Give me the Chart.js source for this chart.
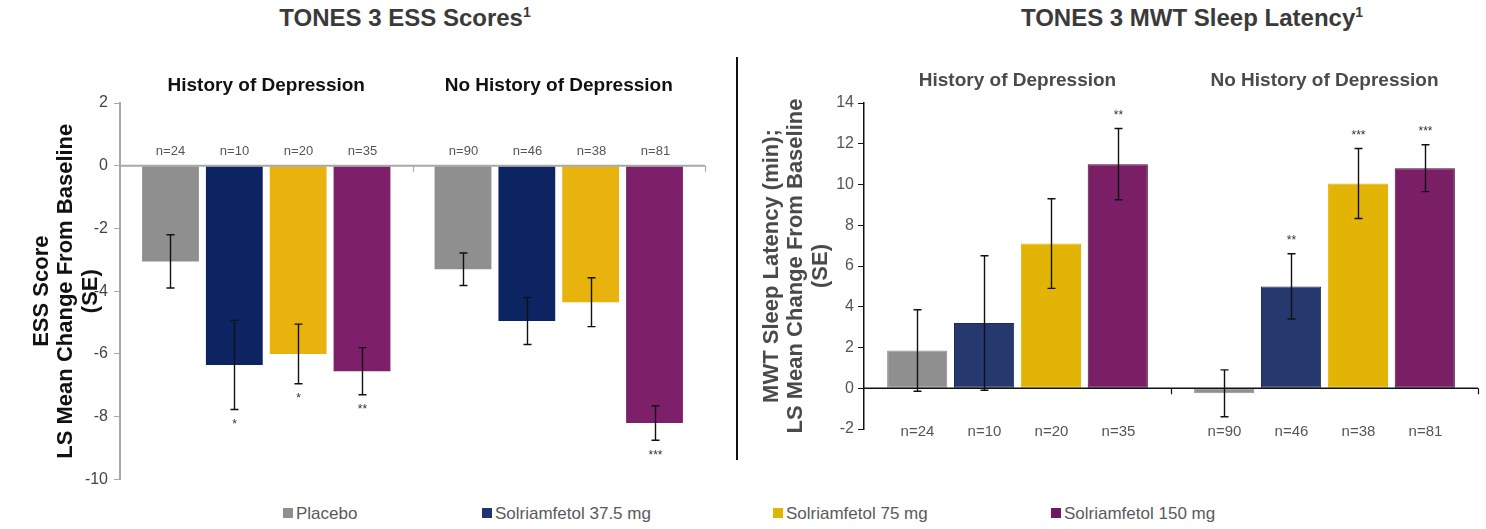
<!DOCTYPE html>
<html>
<head>
<meta charset="utf-8">
<script src="https://cdn.jsdelivr.net/npm/chart.js@4.4.1/dist/chart.umd.min.js"></script>
<style>
  html, body { margin: 0; padding: 0; background: #ffffff; }
  body { width: 1486px; height: 529px; position: relative; overflow: hidden; font-family: "Liberation Sans", Arial, sans-serif; }
  .title { position: absolute; top: 4px; width: 600px; text-align: center; font-weight: bold; font-size: 24px; line-height: 28px; color: #3a3a3a; }
  .title sup { font-size: 14px; vertical-align: 9px; line-height: 0; }
  #sep { position: absolute; left: 736px; top: 57px; width: 2px; height: 403px; background: #111; }
  canvas { position: absolute; top: 0; }
  .leg { position: absolute; top: 504px; font-size: 17px; line-height: 20px; color: #5a5a5a; white-space: nowrap; }
  .leg i { display: inline-block; width: 10px; height: 10px; margin-right: 3px; vertical-align: 1px; }
</style>
</head>
<body>
<div class="title" style="left:105px">TONES 3 ESS Scores<sup>1</sup></div>
<div class="title" style="left:892px">TONES 3 MWT Sleep Latency<sup>1</sup></div>
<div id="sep"></div>
<canvas id="ess" width="730" height="495" style="left:0"></canvas>
<canvas id="mwt" width="746" height="495" style="left:740px"></canvas>
<div id="legend"></div>
<script>
// ---------- data ----------
const groups = ["History of Depression", "No History of Depression"];
const treatments = ["Placebo", "Solriamfetol 37.5 mg", "Solriamfetol 75 mg", "Solriamfetol 150 mg"];

// sample sizes per treatment [history, no history]
const nPlacebo = [24, 90];
const n375 = [10, 46];
const n75 = [20, 38];
const n150 = [35, 81];

// ESS LS mean change (SE)
const essPlacebo = [-3.05, -3.3];
const ess375 = [-6.35, -4.95];
const ess75 = [-6.0, -4.35];
const ess150 = [-6.55, -8.2];
const essSePlacebo = [0.85, 0.52];
const essSe375 = [1.42, 0.75];
const essSe75 = [0.95, 0.78];
const essSe150 = [0.75, 0.55];
const essSigPlacebo = ["", ""];
const essSig375 = ["*", ""];
const essSig75 = ["*", ""];
const essSig150 = ["**", "***"];
const essTicks = [2, 0, -2, -4, -6, -8, -10];

// MWT sleep latency LS mean change (SE)
const mwtPlacebo = [1.85, -0.25];
const mwt375 = [3.2, 5.0];
const mwt75 = [7.1, 10.05];
const mwt150 = [11.0, 10.8];
const mwtSePlacebo = [2.0, 1.15];
const mwtSe375 = [3.3, 1.6];
const mwtSe75 = [2.2, 1.72];
const mwtSe150 = [1.75, 1.15];
const mwtSigPlacebo = ["", ""];
const mwtSig375 = ["", "**"];
const mwtSig75 = ["", "***"];
const mwtSig150 = ["**", "***"];
const mwtTicks = [14, 12, 10, 8, 6, 4, 2, 0, -2];

// ---------- styles ----------
const FONT = '"Liberation Sans", Arial, sans-serif';
const essColors = ["#8f8f8f", "#0c2562", "#e8b30c", "#7d1f69"];
const mwtColors = ["#8f8f8f", "#25396e", "#e2b406", "#7a1e66"];
const mwtBorders = ["#8f8f8f", "#1c2c58", "#e2b406", "#3e0d34"];

// legend
const legendX = [283, 482, 773, 1051];
const legendEl = document.getElementById('legend');
treatments.forEach((t, i) => {
  const d = document.createElement('div');
  d.className = 'leg';
  d.style.left = legendX[i] + 'px';
  d.innerHTML = '<i style="background:' + [ "#8f8f8f", "#1f3570", "#e2b406", "#6e1a5c"][i] + '"></i>' + t;
  legendEl.appendChild(d);
});

// ---------- plugin: zero line, error bars, n labels, significance ----------
const extras = {
  id: 'extras',
  afterDatasetsDraw(chart, args, o) {
    const ctx = chart.ctx, xs = chart.scales.x, ys = chart.scales.y, a = chart.chartArea;
    ctx.save();
    // zero axis line
    const y0 = ys.getPixelForValue(0);
    ctx.strokeStyle = o.axisColor; ctx.lineWidth = o.axisWidth;
    ctx.beginPath(); ctx.moveTo(a.left, y0); ctx.lineTo(a.right, y0); ctx.stroke();
    const nCat = chart.data.labels.length;
    ctx.lineWidth = 1.2;
    for (let i = 0; i < nCat; i++) {
      const bx = Math.round(xs.getPixelForValue(i + 0.5)) + 0.5;
      ctx.beginPath(); ctx.moveTo(bx, y0); ctx.lineTo(bx, y0 + 6); ctx.stroke();
    }
    // error bars + labels
    chart.data.datasets.forEach((ds, di) => {
      const meta = chart.getDatasetMeta(di);
      meta.data.forEach((bar, j) => {
        const v = ds.data[j], se = o.se[di][j];
        const cx = Math.round(bar.x) + 0.5;
        const yHi = ys.getPixelForValue(v + se), yLo = ys.getPixelForValue(v - se);
        ctx.strokeStyle = '#111'; ctx.lineWidth = 1.4;
        ctx.beginPath();
        ctx.moveTo(cx, yHi); ctx.lineTo(cx, yLo);
        ctx.moveTo(cx - 4, yHi); ctx.lineTo(cx + 4, yHi);
        ctx.moveTo(cx - 4, yLo); ctx.lineTo(cx + 4, yLo);
        ctx.stroke();
        // n label
        ctx.fillStyle = o.nColor; ctx.font = o.nFont + 'px ' + FONT;
        ctx.textAlign = 'center'; ctx.textBaseline = 'middle';
        ctx.fillText('n=' + o.n[di][j], cx, ys.getPixelForValue(o.nAt) + o.nDy);
        // significance
        const s = o.sig[di][j];
        if (s) {
          ctx.fillStyle = '#333'; ctx.font = '12px ' + FONT;
          const sy = o.sigDir < 0 ? yLo + 15 : yHi - 13;
          ctx.fillText(s, cx, sy);
        }
      });
    });
    ctx.restore();
  }
};

function makeChart(id, cfg) {
  return new Chart(document.getElementById(id), {
    type: 'bar',
    data: {
      labels: groups,
      datasets: treatments.map((t, i) => ({
        label: t,
        data: cfg.values[i],
        backgroundColor: cfg.colors[i],
        borderColor: cfg.borders[i],
        borderWidth: cfg.borderWidth,
        borderSkipped: false,
        categoryPercentage: cfg.catPct,
        barPercentage: cfg.barPct
      }))
    },
    options: {
      responsive: false,
      animation: false,
      devicePixelRatio: 1,
      layout: { padding: cfg.padding },
      plugins: {
        legend: { display: false },
        tooltip: { enabled: false },
        extras: cfg.extras
      },
      scales: {
        x: {
          position: 'top',
          grid: { display: false, drawTicks: false },
          border: { display: false },
          ticks: { color: cfg.groupColor, font: { family: FONT, size: 19, weight: 'bold' }, padding: cfg.groupPad, maxRotation: 0 },
          afterFit: s => { s.height = 103; }
        },
        y: {
          min: cfg.min, max: cfg.max,
          afterBuildTicks: s => { s.ticks = cfg.ticks.map(v => ({ value: v })); },
          grid: { display: true, drawOnChartArea: false, drawTicks: true, tickLength: 6, color: cfg.axisColor },
          border: { display: true, color: cfg.axisColor, width: cfg.axisWidth },
          ticks: { color: cfg.tickColor, font: { family: FONT, size: 16 }, padding: cfg.tickPad },
          title: {
            display: true, text: cfg.yTitle, color: cfg.yTitleColor,
            font: { family: FONT, size: 22, weight: 'bold', lineHeight: 1.1 },
            padding: { top: cfg.yTitlePad, bottom: 0 }
          },
          afterFit: s => { s.width = cfg.yWidth; }
        }
      }
    },
    plugins: [extras]
  });
}

makeChart('ess', {
  values: [essPlacebo, ess375, ess75, ess150],
  colors: essColors, borders: essColors, borderWidth: 0,
  catPct: 0.873, barPct: 0.89,
  padding: { left: 0, right: 25, top: 0, bottom: 14 },
  groupColor: '#111', groupPad: 6,
  min: -10, max: 2, ticks: essTicks,
  axisColor: '#a8a8a8', axisWidth: 2, tickColor: '#444', tickPad: 6,
  yTitle: ["ESS Score", "LS Mean Change From Baseline", "(SE)"], yTitleColor: '#111', yTitlePad: 30,
  yWidth: 120,
  extras: {
    axisColor: '#a8a8a8', axisWidth: 2,
    se: [essSePlacebo, essSe375, essSe75, essSe150],
    n: [nPlacebo, n375, n75, n150],
    sig: [essSigPlacebo, essSig375, essSig75, essSig150],
    nAt: 0, nDy: -14, nFont: 13, nColor: '#555', sigDir: -1
  }
});

makeChart('mwt', {
  values: [mwtPlacebo, mwt375, mwt75, mwt150],
  colors: mwtColors, borders: mwtBorders, borderWidth: 1,
  catPct: 0.871, barPct: 0.9,
  padding: { left: 0, right: 8, top: 0, bottom: 66 },
  groupColor: '#4a4a4a', groupPad: 11,
  min: -2, max: 14, ticks: mwtTicks,
  axisColor: '#111', axisWidth: 1.5, tickColor: '#555', tickPad: 4,
  yTitle: ["MWT Sleep Latency (min);", "LS Mean Change From Baseline", "(SE)"], yTitleColor: '#4a4a4a', yTitlePad: 20,
  yWidth: 124,
  extras: {
    axisColor: '#111', axisWidth: 1.5,
    se: [mwtSePlacebo, mwtSe375, mwtSe75, mwtSe150],
    n: [nPlacebo, n375, n75, n150],
    sig: [mwtSigPlacebo, mwtSig375, mwtSig75, mwtSig150],
    nAt: -2, nDy: 3, nFont: 15, nColor: '#555', sigDir: 1
  }
});
</script>
</body>
</html>
